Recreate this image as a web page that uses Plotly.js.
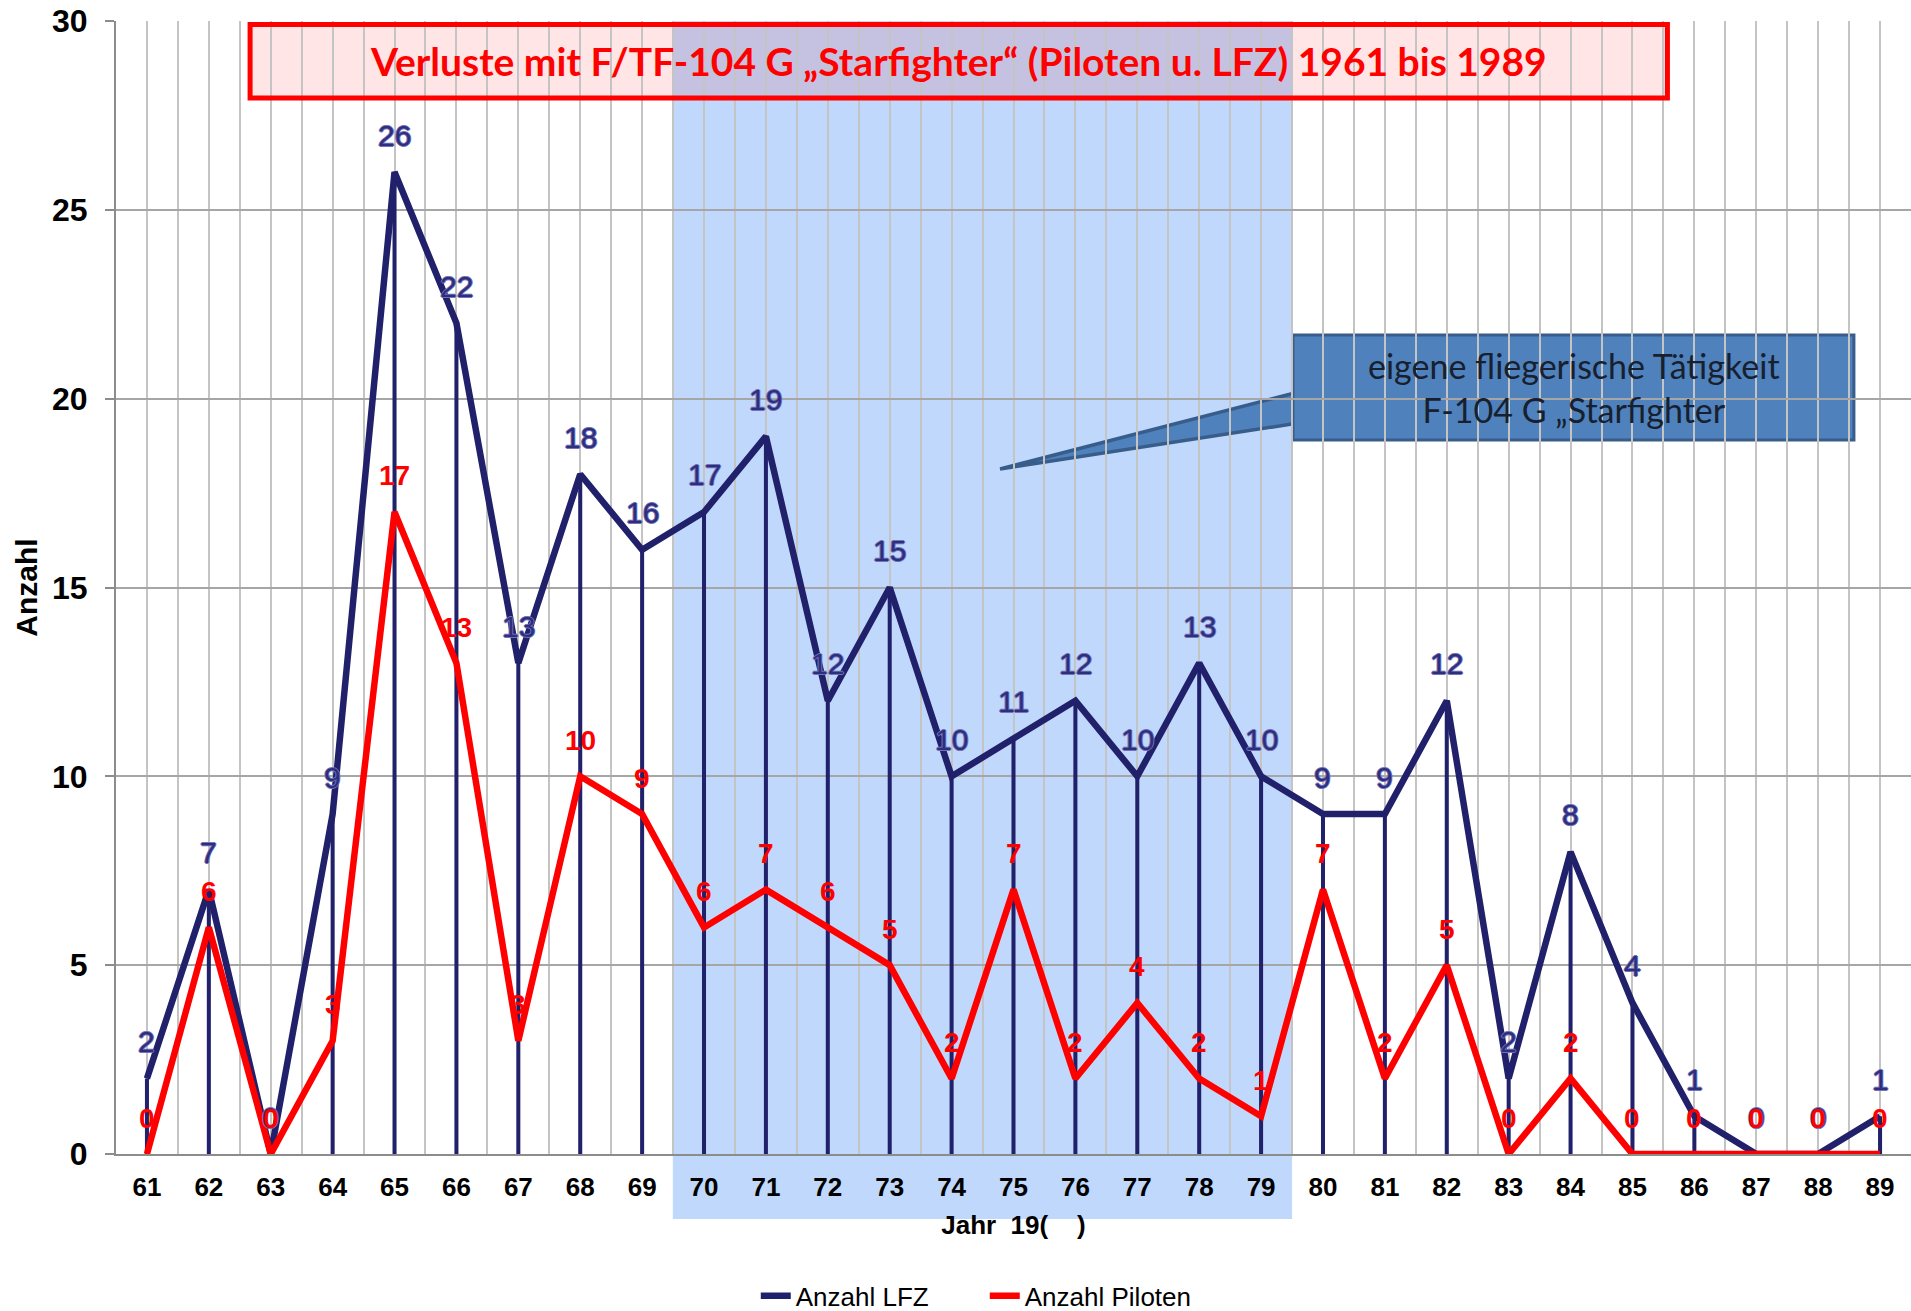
<!DOCTYPE html>
<html>
<head>
<meta charset="utf-8">
<script src="https://cdn.plot.ly/plotly-3.0.1.min.js"></script>
<style>
  html, body { margin: 0; padding: 0; background: #ffffff; }
  #chart { width: 1911px; height: 1311px; }
</style>
</head>
<body>
<div id="chart"></div>
<script>
// ---- data ----
const years   = [61, 62, 63, 64, 65, 66, 67, 68, 69, 70, 71, 72, 73, 74, 75, 76, 77, 78, 79, 80, 81, 82, 83, 84, 85, 86, 87, 88, 89];
const lfz     = [2, 7, 0, 9, 26, 22, 13, 18, 16, 17, 19, 12, 15, 10, 11, 12, 10, 13, 10, 9, 9, 12, 2, 8, 4, 1, 0, 0, 1];
const piloten = [0, 6, 0, 3, 17, 13, 3, 10, 9, 6, 7, 6, 5, 2, 7, 2, 4, 2, 1, 7, 2, 5, 0, 2, 0, 0, 0, 0, 0];
const seriesNames = ['Anzahl LFZ', 'Anzahl Piloten'];
const titleText = 'Verluste mit F/TF-104 G \u201EStarfighter\u201C (Piloten u. LFZ) 1961 bis 1989';
const calloutText = 'eigene fliegerische T\u00E4tigkeit<br>F-104 G \u201EStarfighter';
const xTitle = 'Jahr\u00A0\u00A019(\u00A0\u00A0\u00A0\u00A0)';
const yTitle = 'Anzahl';

const NAVY = '#20206b';
const RED = '#ff0000';
const ARIAL = 'Liberation Sans, Arial, sans-serif';
const outline = '1px 0 0 #7272b8, -1px 0 0 #7272b8, 0 1px 0 #7272b8, 0 -1px 0 #7272b8';

const traces = [
  { type: 'bar', x: years, y: lfz, width: 0.065, marker: { color: NAVY, line: { width: 0 } },
    showlegend: false, hoverinfo: 'skip' },
  { type: 'scatter', mode: 'lines', name: seriesNames[0], x: years, y: lfz,
    line: { color: NAVY, width: 6.5 } },
  { type: 'scatter', mode: 'lines', name: seriesNames[1], x: years, y: piloten,
    line: { color: RED, width: 6.5 } }
];

const annotations = [];
years.forEach((yr, i) => {
  annotations.push({ x: yr, y: lfz[i], text: String(lfz[i]), showarrow: false, yshift: 37,
    font: { family: ARIAL, size: 30, color: '#2e2e7e', shadow: outline } });
});
years.forEach((yr, i) => {
  annotations.push({ x: yr, y: piloten[i], text: String(piloten[i]), showarrow: false, yshift: 36,
    font: { family: ARIAL, size: 28, color: RED, weight: 'bold' } });
});
annotations.push({ xref: 'paper', yref: 'paper', x: 0.4695, y: 0.9647, xanchor: 'center', yanchor: 'middle',
  text: titleText, showarrow: false,
  font: { family: 'Lato, sans-serif', size: 39, color: RED, weight: 'bold' } });
annotations.push({ xref: 'paper', yref: 'paper', x: 0.812, y: 0.6765, xanchor: 'center', yanchor: 'middle',
  text: calloutText, showarrow: false,
  font: { family: 'Lato, sans-serif', size: 34, color: '#17202e' } });

const shapes = [
  // shaded period
  { type: 'rect', xref: 'paper', yref: 'paper', x0: 0.3102, x1: 0.6552, y0: -0.0574, y1: 1,
    fillcolor: '#bfd8fb', line: { width: 0 }, layer: 'below' },
  // title box fill
  { type: 'rect', xref: 'paper', yref: 'paper', x0: 0.0747, x1: 0.8643, y0: 0.932, y1: 0.9969,
    fillcolor: 'rgba(255,0,0,0.1)', line: { width: 0 }, layer: 'below' },
  // title box border
  { type: 'rect', xref: 'paper', yref: 'paper', x0: 0.0747, x1: 0.8643, y0: 0.932, y1: 0.9969,
    fillcolor: 'rgba(0,0,0,0)', line: { color: RED, width: 5 }, layer: 'above' },
  // callout pointer
  { type: 'path', xref: 'paper', yref: 'paper',
    path: 'M 0.4925 0.6046 L 0.6560 0.6715 L 0.6560 0.6445 Z',
    fillcolor: '#4f81bd', line: { color: '#385d8a', width: 3.5 }, layer: 'below' },
  // callout box
  { type: 'rect', xref: 'paper', yref: 'paper', x0: 0.6557, x1: 0.9682, y0: 0.6302, y1: 0.7229,
    fillcolor: '#4f81bd', line: { color: '#385d8a', width: 3 }, layer: 'below' }
];

const layout = {
  width: 1911, height: 1311,
  paper_bgcolor: '#ffffff', plot_bgcolor: 'rgba(0,0,0,0)',
  margin: { l: 116, r: 0, t: 21, b: 157, autoexpand: false },
  showlegend: true,
  legend: { orientation: 'h', x: 0.484, xanchor: 'center', y: -0.1253, yanchor: 'middle',
    entrywidth: 184, entrywidthmode: 'pixels',
    font: { family: ARIAL, size: 26, color: '#000' }, bgcolor: 'rgba(0,0,0,0)' },
  xaxis: {
    range: [60.5, 89.5], tickmode: 'array', tickvals: years, ticktext: years.map(String),
    showgrid: true, gridcolor: '#c4c4c4', gridwidth: 2,
    minor: { tick0: 60.5, dtick: 1, showgrid: true, gridcolor: '#c4c4c4', gridwidth: 2 },
    showline: true, linecolor: '#8c8c8c', linewidth: 2, zeroline: false,
    ticks: '', ticklabelstandoff: 9, automargin: false,
    tickfont: { family: ARIAL, size: 26, color: '#000', weight: 'bold' },
    title: { text: xTitle, standoff: 15, font: { family: ARIAL, size: 26, color: '#000', weight: 'bold' } },
    fixedrange: true
  },
  yaxis: {
    range: [0, 30], tickmode: 'linear', tick0: 0, dtick: 5,
    showgrid: true, gridcolor: '#a6a6a6', gridwidth: 2,
    showline: true, linecolor: '#8c8c8c', linewidth: 2, zeroline: false,
    ticks: 'outside', ticklen: 9, tickwidth: 2, tickcolor: '#8c8c8c', ticklabelstandoff: 11, automargin: false,
    tickfont: { family: ARIAL, size: 32, color: '#000', weight: 'bold' },
    title: { text: yTitle, standoff: 6, font: { family: ARIAL, size: 30, color: '#000', weight: 'bold' } },
    fixedrange: true
  },
  annotations: annotations,
  shapes: shapes,
  hovermode: false
};

Plotly.newPlot('chart', traces, layout, { displayModeBar: false, staticPlot: true });
</script>
</body>
</html>
